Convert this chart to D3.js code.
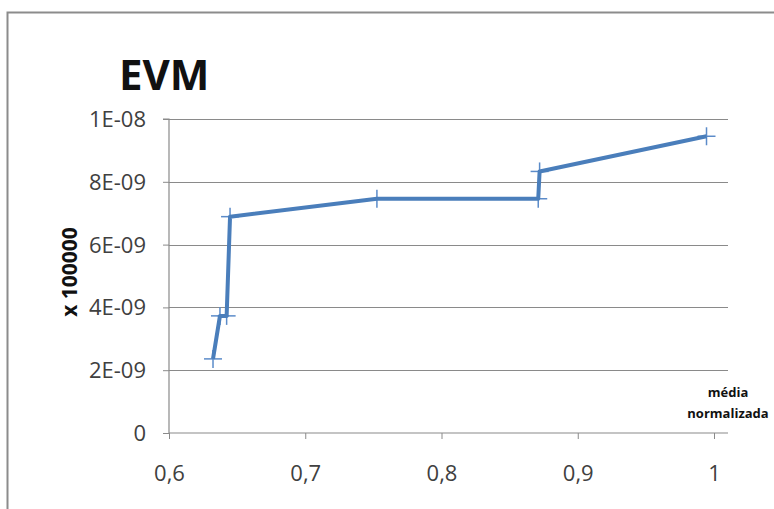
<!DOCTYPE html>
<html><head><meta charset="utf-8">
<script src="https://cdn.jsdelivr.net/npm/d3@7"></script>
<style>
html,body{margin:0;padding:0;background:#fff;}
text{font-family:"Open Sans","Liberation Sans",sans-serif;}
</style></head>
<body><svg id="chart" width="774" height="509"></svg>
<script>
const xValues = [0.6323, 0.6374, 0.6423, 0.6448, 0.7526, 0.8710, 0.8720, 0.9945];
const yValues = [2.36e-9, 3.73e-9, 3.73e-9, 6.89e-9, 7.46e-9, 7.46e-9, 8.33e-9, 9.45e-9];
const xTicks = [0.6, 0.7, 0.8, 0.9, 1.0];
const yTicks = [0, 2e-9, 4e-9, 6e-9, 8e-9, 1e-8];
const yTickLabels = ["0", "2E-09", "4E-09", "6E-09", "8E-09", "1E-08"];
const titleText = "EVM";
const yAxisTitle = "x 100000";
const xAxisTitle = ["média", "normalizada"];

const svg = d3.select("#chart");
const L = 169, R = 714, T = 119, B = 433;
const x = d3.scaleLinear().domain([0.6, 1.0]).range([L, R]);
const y = d3.scaleLinear().domain([0, 1e-8]).range([B, T]);
const gridRight = 728;

// outer border
svg.append("rect").attr("x", 7.5).attr("y", 12.5).attr("width", 780).attr("height", 520)
  .attr("fill", "none").attr("stroke", "#8c8c8c").attr("stroke-width", 2);

// gridlines
svg.append("g").selectAll("line").data(yTicks.slice(1)).join("line")
  .attr("x1", L).attr("x2", gridRight)
  .attr("y1", d => Math.round(y(d)) + 0.5).attr("y2", d => Math.round(y(d)) + 0.5)
  .attr("stroke", "#8a8a8a").attr("stroke-width", 1.2);

// y axis
const yAxis = d3.axisLeft(y).tickValues(yTicks).tickSize(6).tickPadding(17)
  .tickFormat((d, i) => yTickLabels[i]);
const gy = svg.append("g").attr("transform", `translate(${L},0)`).call(yAxis);
gy.select(".domain").attr("stroke", "#8a8a8a").attr("stroke-width", 1.2).attr("d", `M-6,${T}H0V${B}`);
gy.selectAll(".tick line").attr("stroke", "#8a8a8a");
gy.selectAll(".tick text").attr("font-size", 22).attr("fill", "#404040")
  .attr("font-family", "'Open Sans',sans-serif").attr("dy", "0.34em");

// x axis
const xAxis = d3.axisBottom(x).tickValues(xTicks).tickSize(6).tickPadding(31)
  .tickFormat(d => d === 1 ? "1" : d3.format(".1f")(d).replace(".", ","));
const gx = svg.append("g").attr("transform", `translate(0,${B})`).call(xAxis);
gx.select(".domain").attr("stroke", "#8a8a8a").attr("stroke-width", 1.2).attr("d", `M${L},0H${gridRight}`);
gx.selectAll(".tick line").attr("stroke", "#8a8a8a");
gx.selectAll(".tick text").attr("font-size", 22).attr("fill", "#404040")
  .attr("font-family", "'Open Sans',sans-serif").attr("dy", "0.5em");

// title
svg.append("text").attr("x", 119).attr("y", 90).text(titleText)
  .attr("font-size", 42).attr("font-weight", "bold").attr("fill", "#111")
  .attr("font-family", "'Open Sans',sans-serif");

// y axis title
svg.append("text").attr("transform", `translate(77,272) rotate(-90)`)
  .attr("text-anchor", "middle").text(yAxisTitle)
  .attr("font-size", 21).attr("font-weight", "bold").attr("fill", "#111");

// x axis title
svg.append("text").attr("text-anchor", "middle").attr("font-size", 13).attr("font-weight", "bold").attr("fill", "#111")
  .selectAll("tspan").data(xAxisTitle).join("tspan")
  .attr("x", 728).attr("y", (d, i) => 397 + i * 21).text(d => d);

// data
const data = xValues.map((v, i) => ({ x: v, y: yValues[i] }));
const line = d3.line().x(d => x(d.x)).y(d => y(d.y));

// error bar crosses
const cross = svg.append("g");
data.forEach(d => {
  const cx = x(d.x), cy = y(d.y);
  cross.append("line").attr("x1", cx - 9).attr("x2", cx + 9).attr("y1", cy).attr("y2", cy)
    .attr("stroke", "#5b8bc9").attr("stroke-width", 1.5);
  cross.append("line").attr("x1", cx).attr("x2", cx).attr("y1", cy - 9).attr("y2", cy + 9)
    .attr("stroke", "#5b8bc9").attr("stroke-width", 1.5);
});

svg.append("path").datum(data).attr("d", line)
  .attr("fill", "none").attr("stroke", "#4a7ebb").attr("stroke-width", 4)
  .attr("stroke-linejoin", "round");
</script></body></html>
